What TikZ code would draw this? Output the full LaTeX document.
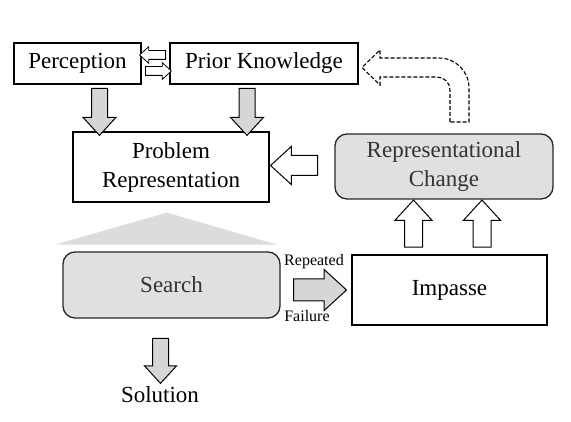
\documentclass[tikz,border=0pt]{standalone}
\usepackage{fontspec}
\setmainfont{Liberation Serif}
\usetikzlibrary{shapes.arrows,positioning,calc}
\definecolor{boxgray}{RGB}{224,224,224}
\definecolor{arrgray}{RGB}{214,214,214}
\definecolor{fangray}{RGB}{220,220,220}
\definecolor{edgegray}{RGB}{40,40,40}
\tikzset{
  wbox/.style={draw=black,fill=white,line width=1.3pt,align=center,inner sep=0pt,
               font=\fontsize{23}{29}\selectfont},
  gbox/.style={draw=edgegray,fill=boxgray,rounded corners=12pt,line width=1.3pt,
               align=center,inner sep=0pt,text=black!80,font=\fontsize{23}{29}\selectfont},
  blk/.style={single arrow,draw=black,line width=1pt,single arrow tip angle=85},
  dnarr/.style={blk,fill=arrgray,inner sep=7.5pt,single arrow head extend=8.5pt,
                minimum height=47pt,shape border rotate=270},
  uparr/.style={blk,fill=white,inner sep=8.5pt,single arrow head extend=9.5pt,
                minimum height=47pt,shape border rotate=90},
  smarr/.style={blk,fill=white,line width=0.8pt,inner sep=4pt,single arrow head extend=4pt,
                minimum height=26pt},
  lbl/.style={font=\fontsize{16}{18}\selectfont,inner sep=0pt},
}

\begin{document}
\begin{tikzpicture}[x=1pt,y=-1pt]
  \useasboundingbox (0,0) rectangle (571,422);
  % top row
  \node[wbox,minimum width=127pt,minimum height=41pt] (perc) at (77.5,63.5) {Perception};
  \node[wbox,minimum width=188pt,minimum height=41pt] (prior) at (264,63.5) {Prior Knowledge};
  \node[smarr,shape border rotate=180] (back) at (155,55) {};
  \node[smarr] (fwd) at (156,71) {};
  % middle row
  \node[wbox,minimum width=196pt,minimum height=70pt] (prob) at (171,167) {Problem\\Representation};
  \node[gbox,minimum width=218pt,minimum height=65pt] (repr) at (444,166.5) {Representational\\Change};
  \node[dnarr] (pdown) at (99.5,107.5) {};
  \node[dnarr] (kdown) at (247,107.5) {};
  \node[blk,fill=white,inner sep=9.5pt,single arrow head extend=9pt,minimum height=47pt,
        shape border rotate=180] (redo) at (299.5,165.5) {};
  % bottom row
  \fill[fangray] ($(prob.south)+(-4,10)$) -- ($(prob.south)+(106,42)$)
    -- ($(prob.south)+(-116,42)$) -- cycle;
  \node[gbox,minimum width=217pt,minimum height=66pt] (search) at (171.5,285) {Search};
  \node[wbox,minimum width=195pt,minimum height=70pt] (imp) at (449.5,290) {Impasse};
  \node[blk,fill=arrgray,inner sep=10.5pt,single arrow head extend=9.5pt,
        minimum height=53pt] (fail) at (314,290) {};
  \node[lbl,above=9pt of fail.north] {Repeated};
  \node[lbl,below=9pt of fail.south,xshift=-7pt] {Failure};
  \node[uparr] (up1) at (413.5,228.5) {};
  \node[uparr] (up2) at (482,228.5) {};
  \node[dnarr,inner sep=7.5pt,single arrow head extend=8pt,minimum height=45pt] (sdown) at (160.5,356.5) {};
  \node[font=\fontsize{23}{29}\selectfont,inner sep=0pt] (sol) at (160,395) {Solution};
  % dashed bent arrow back to prior knowledge
  \draw[line width=1.1pt,dash pattern=on 4pt off 2pt,fill=white]
    (450,122) [rounded corners=13pt] -- (450,77) [sharp corners] -- (380,77) -- (380,85)
    -- (362,67.5) -- (380,50) -- (380,58) [rounded corners=30pt] -- (469,58)
    [sharp corners] -- (469,122) -- cycle;
\end{tikzpicture}
\end{document}
